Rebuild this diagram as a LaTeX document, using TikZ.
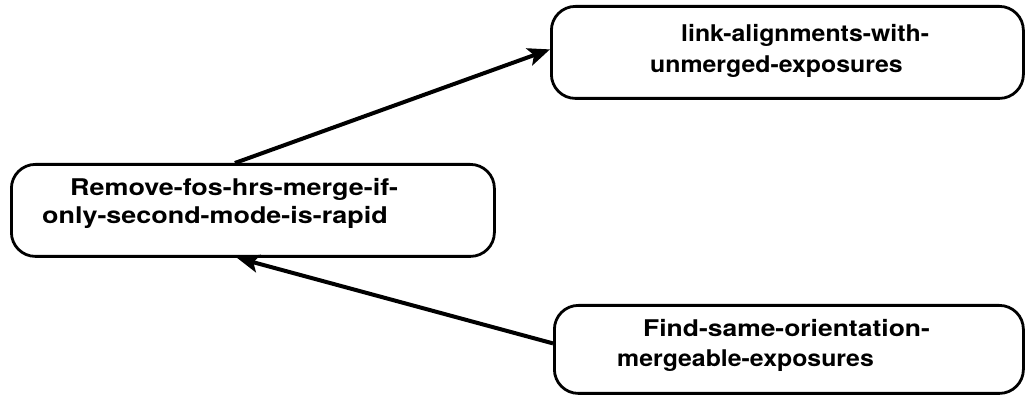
\documentclass[tikz,border=0pt]{standalone}
\usepackage{fontspec}
\setmainfont{TeX Gyre Heros}
\usepackage{graphicx}
\usetikzlibrary{arrows.meta}
\newcommand\sxl[2]{\scalebox{#1}[1]{#2}}
\begin{document}
\begin{tikzpicture}[x=1pt,y=-1pt,
  box/.style={draw, line width=2.8pt, rounded corners=24pt, inner sep=0pt, anchor=north west},
  lbl/.style={anchor=base west, inner sep=0pt, font=\fontsize{23}{23}\selectfont\bfseries},
  conn/.style={line width=4pt, -{Stealth[length=22pt,width=18pt,inset=5pt]}}]
\useasboundingbox (0,0) rectangle (1026,395);
\fill[white] (0,0) rectangle (1026,395);
\node[box, minimum width=483pt, minimum height=92pt] (L) at (10,163) {};
\node[box, minimum width=472pt, minimum height=92pt] (TR) at (550,5) {};
\node[box, minimum width=469pt, minimum height=88pt] (BR) at (553,304) {};
\node[lbl] (l1) at (70,196) {\sxl{1.17}{Remove-fos-hrs-merge-if-}};
\node[lbl] (l2) at (42,224) {\sxl{1.17}{only-second-mode-is-rapid}};
\node[lbl] (t1) at (681,42) {\sxl{1.08}{link-alignments-with-}};
\node[lbl] (t2) at (650,73) {\sxl{1.08}{unmerged-exposures}};
\node[lbl] (b1) at (643,337) {\sxl{1.15}{Find-same-orientation-}};
\node[lbl] (b2) at (617,367) {\sxl{1.08}{mergeable-exposures}};
\draw[conn] ([xshift=-18pt]L.north) -- ([yshift=3pt]TR.west);
\draw[conn] ([yshift=6pt]BR.west) -- ([xshift=-16pt]L.south);
\end{tikzpicture}
\end{document}
